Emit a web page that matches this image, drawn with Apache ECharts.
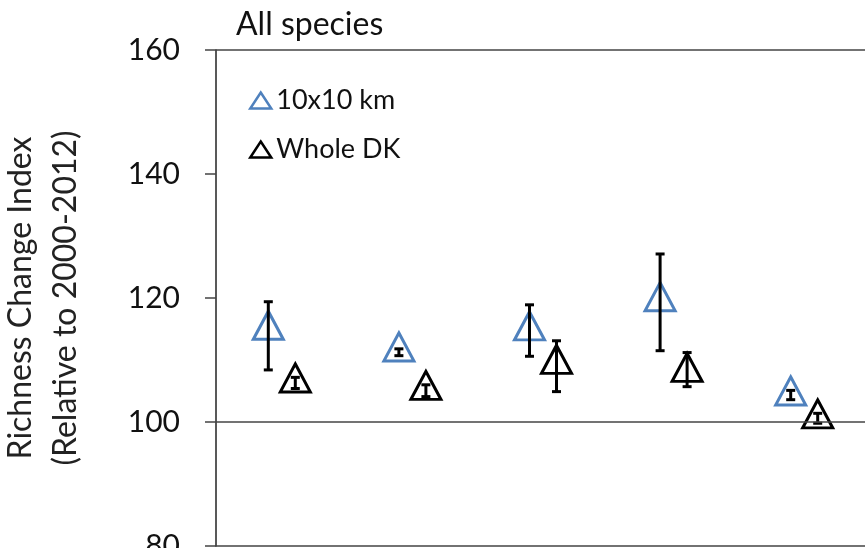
<!DOCTYPE html>
<html>
<head>
<meta charset="utf-8">
<script src="https://cdn.jsdelivr.net/npm/echarts@6/dist/echarts.min.js"></script>
<style>
  html, body { margin: 0; padding: 0; background: #fff; }
  #chart { width: 865px; height: 548px; }
</style>
</head>
<body>
<div id="chart"></div>
<script>
// periods (no labels shown on the x axis)
const categories = ['1', '2', '3', '4', '5']
const yTicks = [80, 100, 120, 140, 160]

// 10x10 km
const gridValues = [114.8, 111.3, 114.7, 119.4, 104.2]
const gridHigh = [119.4, 111.8, 118.9, 127.1, 105.1]
const gridLow = [108.4, 110.7, 110.6, 111.5, 103.6]

// Whole DK
const dkValues = [106.3, 105.1, 109.3, 108.0, 100.5]
const dkHigh = [107.2, 106.0, 113.1, 111.2, 101.4]
const dkLow = [105.4, 104.1, 104.9, 105.7, 99.8]

const BLUE = '#4f81bd'
const BLACK = '#000'
const FONT = 'Lato, "Open Sans", sans-serif'

const errorBars = (name, high, low, dx, z) => ({
    name: name + ' err',
    type: 'custom',
    z: z,
    silent: true,
    encode: { x: 0, y: [1, 2] },
    data: categories.map((c, i) => [i, high[i], low[i]]),
    renderItem: function (params, api) {
        const top = api.coord([api.value(0), api.value(1)])
        const bot = api.coord([api.value(0), api.value(2)])
        const cx = top[0] + dx
        const style = { stroke: BLACK, lineWidth: 3 }
        return {
            type: 'group',
            children: [
                { type: 'line', shape: { x1: cx, y1: top[1], x2: cx, y2: bot[1] }, style },
                { type: 'line', shape: { x1: cx - 4.5, y1: top[1], x2: cx + 4.5, y2: top[1] }, style },
                { type: 'line', shape: { x1: cx - 4.5, y1: bot[1], x2: cx + 4.5, y2: bot[1] }, style }
            ]
        }
    }
})

const chart = echarts.init(document.getElementById('chart'))
chart.setOption({
    animation: false,
    textStyle: { fontFamily: FONT },
    title: {
        text: 'All species',
        left: 231,
        top: 4,
        textStyle: { fontSize: 32, fontWeight: 'normal', color: '#111', fontFamily: FONT }
    },
    legend: {
        orient: 'vertical',
        left: 244,
        top: 82,
        itemGap: 22,
        itemWidth: 21,
        itemHeight: 16,
        textStyle: { fontSize: 27, color: '#111', fontFamily: FONT },
        data: [
            { name: '10x10 km', icon: 'triangle', itemStyle: { color: '#fff', borderColor: BLUE, borderWidth: 2.5 } },
            { name: 'Whole DK', icon: 'triangle', itemStyle: { color: '#fff', borderColor: BLACK, borderWidth: 2.5 } }
        ]
    },
    grid: {
        left: 216,
        right: -4,
        top: 50,
        bottom: 2,
        containLabel: false,
        outerBoundsMode: 'none'
    },
    xAxis: {
        type: 'category',
        data: categories,
        boundaryGap: true,
        axisLine: { show: true, lineStyle: { color: '#444', width: 1.5 } },
        axisTick: { show: false },
        axisLabel: { show: false },
        splitLine: { show: false }
    },
    yAxis: {
        type: 'value',
        min: yTicks[0],
        max: yTicks[yTicks.length - 1],
        interval: 20,
        name: 'Richness Change Index\n(Relative to 2000-2012)',
        nameLocation: 'middle',
        nameRotate: 90,
        nameGap: 128,
        nameTextStyle: { fontSize: 32, color: '#222', lineHeight: 45, fontFamily: FONT },
        axisLine: { show: true, lineStyle: { color: '#222', width: 1.5 } },
        axisTick: { show: true, inside: false, length: 11, lineStyle: { color: '#444', width: 1.5 } },
        axisLabel: { fontSize: 30, color: '#111', margin: 36, fontFamily: FONT },
        splitLine: { show: false }
    },
    series: [
        {
            name: 'ref',
            type: 'scatter',
            data: [],
            z: 1,
            markLine: {
                silent: true,
                symbol: 'none',
                label: { show: false },
                lineStyle: { color: '#444', width: 1.5, type: 'solid' },
                data: [{ yAxis: 100 }, { yAxis: 160 }]
            }
        },
        {
            name: '10x10 km',
            type: 'scatter',
            z: 3,
            data: gridValues,
            symbol: 'triangle',
            symbolSize: [30, 28],
            symbolOffset: [-13, -5],
            itemStyle: { color: '#fff', borderColor: BLUE, borderWidth: 3, opacity: 1 }
        },
        errorBars('10x10 km', gridHigh, gridLow, -13, 4),
        {
            name: 'Whole DK',
            type: 'scatter',
            z: 3,
            data: dkValues,
            symbol: 'triangle',
            symbolSize: [30, 28],
            symbolOffset: [14, -5],
            itemStyle: { color: '#fff', borderColor: BLACK, borderWidth: 3, opacity: 1 }
        },
        errorBars('Whole DK', dkHigh, dkLow, 14, 4)
    ]
})
</script>
</body>
</html>
